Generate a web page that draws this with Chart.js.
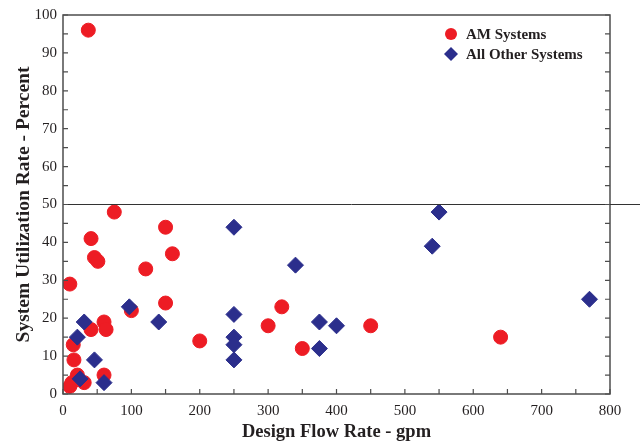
<!DOCTYPE html>
<html>
<head>
<meta charset="utf-8">
<script src="https://cdn.jsdelivr.net/npm/chart.js@4"></script>
<style>
  html, body { margin: 0; padding: 0; background: #fff; }
  #wrap { width: 644px; height: 443px; }
</style>
</head>
<body>
<div id="wrap"><canvas id="chart" width="644" height="443"></canvas></div>
<script>
const amFlow = [37, 75, 41, 46, 51, 10, 150, 160, 121, 150, 100, 60, 63, 41, 15, 16, 21, 60, 10, 13, 31, 200, 300, 320, 350, 450, 640];
const amUtil = [96, 48, 41, 36, 35, 29, 44, 37, 33, 24, 22, 19, 17, 17, 13, 9, 5, 5, 2, 3, 3, 14, 18, 23, 12, 18, 15];

const otherFlow = [250, 340, 550, 540, 250, 250, 250, 250, 375, 400, 375, 770, 97, 140, 31, 21, 46, 25, 60];
const otherUtil = [44, 34, 48, 39, 21, 15, 13, 9, 19, 18, 12, 25, 23, 19, 19, 15, 9, 4, 3];

const seriesNames = ["AM Systems", "All Other Systems"];
const xTitle = "Design Flow Rate - gpm";
const yTitle = "System Utilization Rate - Percent";
const refLine = 50;

const serif = "'Liberation Serif', 'Times New Roman', serif";
const frameColor = "#4d4d4d";

function toPoints(xs, ys) {
    return xs.map((x, i) => ({x: x, y: ys[i]}));
}

// frame, inward ticks and the 50% line
const framePlugin = {
    id: "frame",
    afterDraw(chart) {
        const ctx = chart.ctx;
        const a = chart.chartArea;
        const xs = chart.scales.x;
        const ys = chart.scales.y;
        ctx.save();
        ctx.strokeStyle = frameColor;
        ctx.lineWidth = 1.5;
        ctx.strokeRect(a.left, a.top, a.right - a.left, a.bottom - a.top);

        // reference line runs past the right edge
        const yl = ys.getPixelForValue(refLine);
        ctx.lineWidth = 1;
        ctx.strokeStyle = "#333";
        ctx.beginPath();
        ctx.moveTo(a.left, yl);
        ctx.lineTo(chart.width - 4, yl);
        ctx.stroke();

        ctx.strokeStyle = frameColor;
        ctx.lineWidth = 1.2;
        ctx.beginPath();
        const xt = xs.ticks.map(t => t.value);
        for (let i = 0; i < xt.length; i++) {
            const vals = [xt[i]];
            if (i < xt.length - 1) vals.push((xt[i] + xt[i + 1]) / 2);
            vals.forEach(v => {
                const p = xs.getPixelForValue(v);
                ctx.moveTo(p, a.bottom);
                ctx.lineTo(p, a.bottom - 5);
            });
        }
        const yt = ys.ticks.map(t => t.value);
        for (let i = 0; i < yt.length; i++) {
            const vals = [yt[i]];
            if (i < yt.length - 1) vals.push((yt[i] + yt[i + 1]) / 2);
            vals.forEach(v => {
                const p = ys.getPixelForValue(v);
                ctx.moveTo(a.left, p);
                ctx.lineTo(a.left + 5, p);
                ctx.moveTo(a.right, p);
                ctx.lineTo(a.right - 5, p);
            });
        }
        ctx.stroke();

        // legend inside the plot
        const items = chart.data.datasets;
        ctx.font = "bold 15px " + serif;
        ctx.textBaseline = "middle";
        items.forEach((ds, i) => {
            const ly = 34 + i * 20;
            const lx = 451;
            ctx.fillStyle = ds.backgroundColor;
            ctx.beginPath();
            if (ds.pointStyle === "rectRot") {
                ctx.moveTo(lx, ly - 7);
                ctx.lineTo(lx + 7, ly);
                ctx.lineTo(lx, ly + 7);
                ctx.lineTo(lx - 7, ly);
                ctx.closePath();
            } else {
                ctx.arc(lx, ly, 6, 0, Math.PI * 2);
            }
            ctx.fill();
            ctx.fillStyle = "#231f20";
            ctx.fillText(ds.label, lx + 15, ly + 1);
        });
        ctx.restore();
    }
};

new Chart(document.getElementById("chart"), {
    type: "scatter",
    data: {
        datasets: [
            {
                label: seriesNames[0],
                data: toPoints(amFlow, amUtil),
                backgroundColor: "#ed1c24",
                borderColor: "#ed1c24",
                pointStyle: "circle",
                pointRadius: 7,
                pointHoverRadius: 7,
                order: 2
            },
            {
                label: seriesNames[1],
                data: toPoints(otherFlow, otherUtil),
                backgroundColor: "#2b2e8c",
                borderColor: "#2b2e8c",
                pointStyle: "rectRot",
                pointRadius: 8,
                pointHoverRadius: 8,
                order: 1
            }
        ]
    },
    options: {
        responsive: false,
        animation: false,
        layout: {padding: {top: 12, right: 34, left: 0, bottom: 0}},
        plugins: {
            legend: {display: false},
            tooltip: {enabled: false}
        },
        scales: {
            x: {
                min: 0,
                max: 800,
                grid: {display: false, drawTicks: false},
                border: {display: false},
                ticks: {
                    stepSize: 100,
                    padding: 8,
                    color: "#231f20",
                    font: {family: serif, size: 15}
                },
                title: {
                    display: true,
                    text: xTitle,
                    color: "#231f20",
                    font: {family: serif, size: 18.5, weight: "bold"},
                    padding: {top: 1, bottom: 0}
                },
                afterFit(scale) { scale.height = 49; }
            },
            y: {
                min: 0,
                max: 100,
                grid: {display: false, drawTicks: false},
                border: {display: false},
                ticks: {
                    stepSize: 10,
                    padding: 6,
                    color: "#231f20",
                    font: {family: serif, size: 15}
                },
                title: {
                    display: true,
                    text: yTitle,
                    color: "#231f20",
                    font: {family: serif, size: 19.5, weight: "bold"},
                    padding: {top: 12, bottom: 4}
                },
                afterFit(scale) { scale.width = 63; }
            }
        }
    },
    plugins: [framePlugin]
});
</script>
</body>
</html>
